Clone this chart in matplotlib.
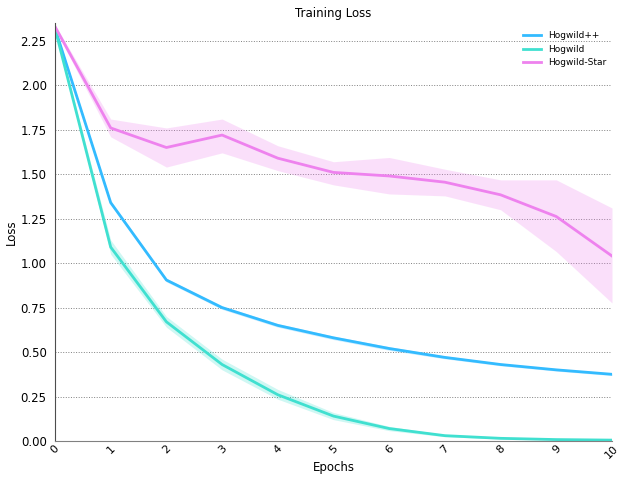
import matplotlib
matplotlib.use('Agg')
import matplotlib.pyplot as plt
import numpy as np

plt.rcParams['font.family'] = ['DejaVu Sans']

epochs = np.arange(11)

# mean loss per epoch, with lower/upper bounds over runs
hogwild_pp = [2.32, 1.34, 0.905, 0.75, 0.65, 0.58, 0.52, 0.47, 0.43, 0.40, 0.375]
hogwild_pp_lo = [2.31, 1.33, 0.895, 0.74, 0.64, 0.57, 0.51, 0.462, 0.423, 0.393, 0.368]
hogwild_pp_hi = [2.33, 1.35, 0.915, 0.76, 0.66, 0.59, 0.53, 0.478, 0.437, 0.407, 0.382]

hogwild = [2.32, 1.09, 0.67, 0.43, 0.26, 0.14, 0.07, 0.03, 0.015, 0.008, 0.005]
hogwild_lo = [2.31, 1.05, 0.64, 0.40, 0.235, 0.12, 0.058, 0.024, 0.011, 0.005, 0.003]
hogwild_hi = [2.33, 1.13, 0.70, 0.46, 0.29, 0.16, 0.082, 0.036, 0.019, 0.011, 0.008]

hogwild_star = [2.33, 1.76, 1.65, 1.72, 1.59, 1.51, 1.49, 1.455, 1.384, 1.262, 1.04]
hogwild_star_lo = [2.32, 1.71, 1.54, 1.62, 1.52, 1.44, 1.389, 1.378, 1.30, 1.065, 0.776]
hogwild_star_hi = [2.34, 1.81, 1.76, 1.81, 1.66, 1.57, 1.594, 1.528, 1.468, 1.468, 1.31]

series = [
    ('Hogwild++', hogwild_pp, hogwild_pp_lo, hogwild_pp_hi, '#33bbff'),
    ('Hogwild', hogwild, hogwild_lo, hogwild_hi, '#40e0d0'),
    ('Hogwild-Star', hogwild_star, hogwild_star_lo, hogwild_star_hi, '#ee82ee'),
]

fig = plt.figure(figsize=(6.18, 4.8), dpi=100)
ax = fig.add_axes([55 / 618, 39 / 480, 557 / 618, 418 / 480])

for name, mean, lo, hi, col in series:
    ax.fill_between(epochs, lo, hi, color=col, alpha=0.25, lw=0)
    ax.plot(epochs, mean, color=col, lw=2, label=name)

ax.set_xlim(0, 10)
ax.set_ylim(0, 2.35)
ax.set_xticks(epochs)
ax.set_yticks(np.arange(0, 2.26, 0.25))
ax.tick_params(axis='x', rotation=45, labelsize=8, length=0, pad=2)
ax.tick_params(axis='y', labelsize=8.5, length=0, pad=6)
ax.yaxis.grid(True, linestyle=':', color='0.5', lw=0.7)
ax.set_axisbelow(True)
for side in ('top', 'right'):
    ax.spines[side].set_visible(False)
ax.spines['left'].set_color('0.3')
ax.spines['bottom'].set_color('0.5')

ax.set_xlabel('Epochs', fontsize=8.5, labelpad=0)
ax.set_ylabel('Loss', fontsize=8.5, labelpad=2)
ax.set_title('Training Loss', fontsize=8.5, pad=4)
ax.legend(loc='upper right', fontsize=6.5, frameon=False, borderaxespad=0.2,
          handlelength=2.0, bbox_to_anchor=(1.0, 0.993))

fig.savefig('out.png', dpi=100)
